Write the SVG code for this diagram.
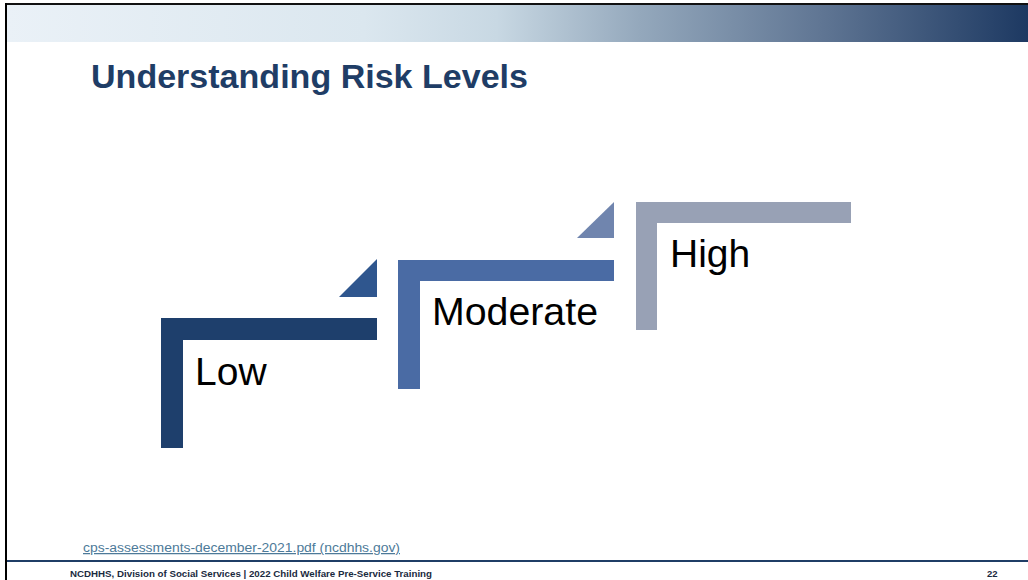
<svg xmlns="http://www.w3.org/2000/svg" width="1028" height="580" viewBox="0 0 1028 580">
<defs>
<linearGradient id="band" x1="0" y1="0" x2="1" y2="0">
<stop offset="0" stop-color="#eaf1f7"/>
<stop offset="0.35" stop-color="#dbe7ef"/>
<stop offset="0.48" stop-color="#c8d8e3"/>
<stop offset="0.62" stop-color="#94a8bc"/>
<stop offset="0.8" stop-color="#5f7593"/>
<stop offset="1" stop-color="#1d3962"/>
</linearGradient>
<style>
.lbl{font-family:"Liberation Sans",Arial,sans-serif;font-size:39px;fill:#000}
</style>
</defs>
<rect x="0" y="0" width="1028" height="580" fill="#fff"/>
<rect x="6" y="5" width="1022" height="37" fill="url(#band)"/>
<rect x="5" y="3" width="1023" height="2" fill="#111"/>
<rect x="5" y="3" width="2" height="577" fill="#000"/>
<text x="91" y="88" font-family="Liberation Sans,Arial,sans-serif" font-weight="bold" font-size="34" fill="#1f3d66" textLength="437" lengthAdjust="spacingAndGlyphs">Understanding Risk Levels</text>
<g id="low">
<path d="M161,318 H377 V340 H183 V448 H161 Z" fill="#1e3f6c"/>
<text class="lbl" x="195" y="385">Low</text>
</g>
<g id="moderate">
<path d="M398,260 H614 V281 H420 V389 H398 Z" fill="#4a6ba4"/>
<text class="lbl" x="432" y="325" textLength="166" lengthAdjust="spacingAndGlyphs">Moderate</text>
</g>
<g id="high">
<path d="M636,202 H851 V223 H657 V330 H636 Z" fill="#98a1b5"/>
<text class="lbl" x="670" y="267">High</text>
</g>
<g id="connectors">
<polygon points="339,297 377,297 377,259" fill="#2f568e"/>
<polygon points="577,238 614,238 614,202" fill="#7085ae"/>
</g>
<text x="83" y="552" font-family="Liberation Sans,Arial,sans-serif" font-size="12.5" fill="#4d7a99" textLength="317" lengthAdjust="spacingAndGlyphs" text-decoration="underline">cps-assessments-december-2021.pdf (ncdhhs.gov)</text>
<rect x="7" y="560" width="1021" height="2" fill="#1f3d66"/>
<text x="70" y="577" font-family="Liberation Sans,Arial,sans-serif" font-weight="bold" font-size="9.5" fill="#1a2a40" textLength="362" lengthAdjust="spacingAndGlyphs">NCDHHS, Division of Social Services | 2022 Child Welfare Pre-Service Training</text>
<text x="987" y="577" font-family="Liberation Sans,Arial,sans-serif" font-weight="bold" font-size="9.5" fill="#1a2a40">22</text>
</svg>
